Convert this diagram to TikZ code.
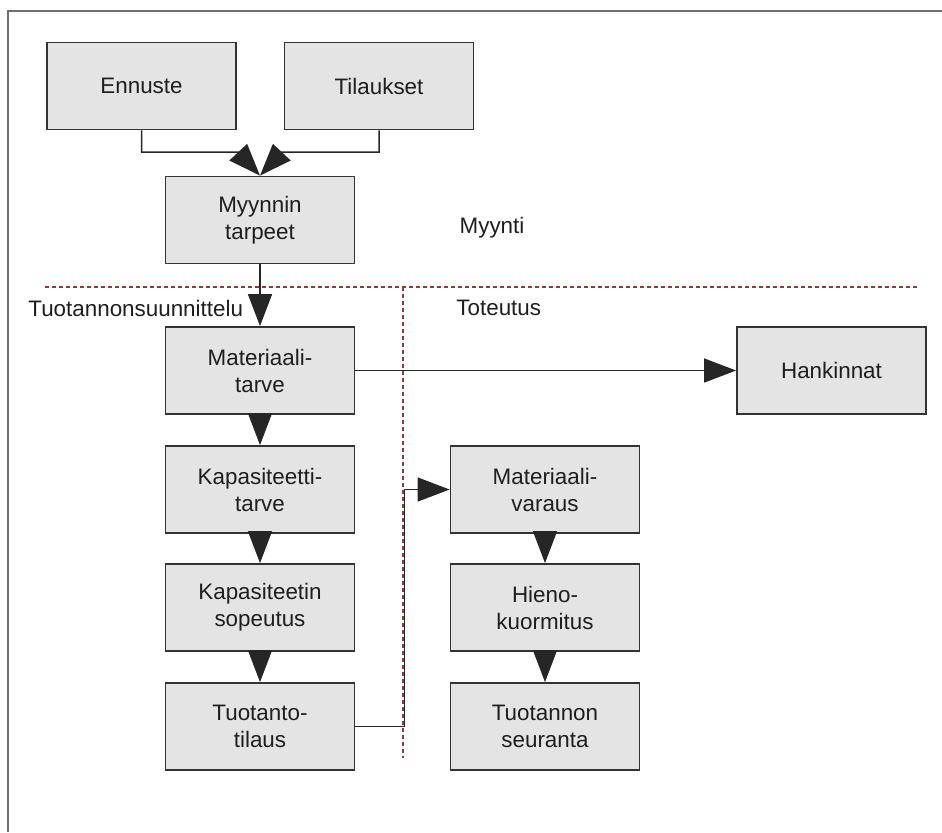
\documentclass[tikz,border=0pt]{standalone}
\usepackage{fontspec}
\setmainfont{Liberation Sans}
\usetikzlibrary{arrows.meta,positioning,calc}
\usepackage{xcolor}
\definecolor{boxgray}{HTML}{E4E4E4}
\definecolor{edgegray}{HTML}{333333}
\definecolor{textgray}{HTML}{1E1E1E}
\definecolor{framegray}{HTML}{707070}
\definecolor{borderred}{HTML}{8E3B3B}
\tikzset{
  box/.style={draw=edgegray,fill=boxgray,line width=0.9pt,align=center,minimum width=94.5pt,minimum height=43.5pt,inner sep=2pt,font=\fontsize{11.2}{13.5}\selectfont,text=textgray},
  label/.style={font=\fontsize{11.2}{13.5}\selectfont,text=textgray,inner sep=0pt},
  flow/.style={-{Triangle[length=16pt,width=12pt]},line width=0.75pt,draw=black!85},
  frame/.style={draw=framegray,line width=1pt},
  divider/.style={draw=borderred,line width=0.6pt,dash pattern=on 2pt off 1.5pt}
}
\begin{document}
\begin{tikzpicture}[x=0.5pt,y=-0.5pt]
  \useasboundingbox (0,0) rectangle (942,832);
  \draw[frame] (942,11) -- (8,11) -- (8,832);
  % myynti
  \node[box] (enn) at (141.5,86) {Ennuste};
  \node[box] (til) at (379,86) {Tilaukset};
  \node[box] (myy) at (260,220) {Myynnin\\tarpeet};
  \node[label] (myynti) at (492,228) {Myynti};
  % jakoviivat
  \draw[divider] (45,287) -- (918,287);
  \draw[divider] (403,287) -- (403,758);
  \node[label,anchor=west] (suunn) at (28,308) {Tuotannonsuunnittelu};
  \node[label,anchor=west] (tot) at (456,308) {Toteutus};
  % tuotannonsuunnittelu
  \node[box] (mat) at (260,370.5) {Materiaali-\\tarve};
  \node[box] (kap) at (260,489.5) {Kapasiteetti-\\tarve};
  \node[box] (sop) at (260,607.5) {Kapasiteetin\\sopeutus};
  \node[box] (tti) at (260,726.5) {Tuotanto-\\tilaus};
  % toteutus
  \node[box] (han) at (831.5,370.5) {Hankinnat};
  \node[box] (var) at (545,489.5) {Materiaali-\\varaus};
  \node[box] (hie) at (545,607.5) {Hieno-\\kuormitus};
  \node[box] (seu) at (545,726.5) {Tuotannon\\seuranta};
  \coordinate (jl) at (238,152);
  \coordinate (jr) at (282,152);
  \draw[flow] (enn.south) |- (jl) -- (myy.north);
  \draw[flow] (til.south) |- (jr) -- (myy.north);
  \draw[flow] (myy) -- (mat);
  \draw[flow] (mat) -- (han);
  \draw[flow] (mat) -- (kap);
  \draw[flow] (kap) -- (sop);
  \draw[flow] (sop) -- (tti);
  \draw[flow] (tti.east) -- ++(49,0) |- (var.west);
  \draw[flow] (var) -- (hie);
  \draw[flow] (hie) -- (seu);
\end{tikzpicture}
\end{document}
